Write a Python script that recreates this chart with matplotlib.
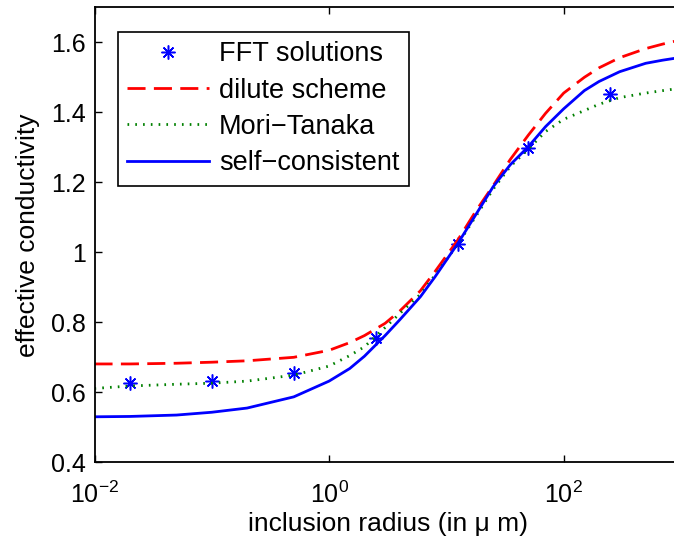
import matplotlib
matplotlib.use("Agg")
import matplotlib.pyplot as plt
from matplotlib.ticker import FixedLocator, FixedFormatter, NullLocator

plt.rcParams['font.family'] = ['Liberation Sans', 'DejaVu Sans']
plt.rcParams['mathtext.fontset'] = 'custom'
plt.rcParams['mathtext.rm'] = 'Liberation Sans'

# FFT reference solutions
x_fft = [0.02, 0.1, 0.5, 2.5, 12.5, 50, 250]
y_fft = [0.626, 0.632, 0.655, 0.754, 1.024, 1.299, 1.451]

# analytical schemes
x_model = [0.01, 0.02, 0.05, 0.1, 0.2, 0.5, 1, 1.5, 2, 3, 4, 6, 8, 12.5,
           18, 25, 35, 50, 70, 100, 150, 200, 300, 500, 700, 1000]
y_dilute = [0.681, 0.681, 0.683, 0.686, 0.690, 0.700, 0.720, 0.742, 0.762,
            0.797, 0.832, 0.890, 0.945, 1.035, 1.120, 1.190, 1.265, 1.335,
            1.397, 1.455, 1.500, 1.527, 1.556, 1.582, 1.595, 1.607]
y_mori = [0.611, 0.618, 0.623, 0.626, 0.632, 0.649, 0.675, 0.705, 0.730,
          0.785, 0.825, 0.880, 0.935, 1.023, 1.105, 1.180, 1.245, 1.295,
          1.345, 1.380, 1.405, 1.423, 1.442, 1.455, 1.462, 1.469]
y_self = [0.530, 0.531, 0.535, 0.543, 0.555, 0.587, 0.632, 0.668, 0.703,
          0.762, 0.807, 0.873, 0.930, 1.025, 1.110, 1.187, 1.250, 1.302,
          1.359, 1.410, 1.462, 1.488, 1.516, 1.540, 1.549, 1.557]

yticks = [0.4, 0.6, 0.8, 1.0, 1.2, 1.4, 1.6]
ytick_labels = ['0.4', '0.6', '0.8', '1', '1.2', '1.4', '1.6']
xticks = [1e-2, 1e0, 1e2]
xtick_labels = [r'$10^{-2}$', r'$10^{0}$', r'$10^{2}$']

fig = plt.figure(figsize=(6.74, 5.43), dpi=100)
ax = fig.add_axes([94.5/674, 1 - 462.3/543, (681 - 94.5)/674, 455/543])

ax.plot(x_fft, y_fft, linestyle='none', marker=(8, 2, 0), markersize=10,
        markeredgewidth=1.1, color='#0000ff', label='FFT solutions')
ax.plot(x_model, y_dilute, color='#ff0000', lw=2, dashes=(6.5, 3),
        label='dilute scheme')
ax.plot(x_model, y_mori, color='#008000', lw=2, dashes=(0.6, 2.2),
        dash_capstyle='butt', label='Mori\u2212Tanaka')
ax.plot(x_model, y_self, color='#0000ff', lw=2, label='self\u2212consistent')

ax.set_xscale('log')
ax.set_xlim(1e-2, 1e3)
ax.set_ylim(0.4, 1.7)
ax.xaxis.set_major_locator(FixedLocator(xticks))
ax.xaxis.set_major_formatter(FixedFormatter(xtick_labels))
ax.xaxis.set_minor_locator(NullLocator())
ax.yaxis.set_major_locator(FixedLocator(yticks))
ax.yaxis.set_major_formatter(FixedFormatter(ytick_labels))
ax.tick_params(direction='in', length=5, width=1, labelsize=18,
               top=True, right=True)
ax.tick_params(axis='y', pad=6)
ax.tick_params(axis='x', pad=14)
for s in ax.spines.values():
    s.set_linewidth(1.3)

ax.set_xlabel('inclusion radius (in \u03bc m)', fontsize=19, labelpad=3)
ax.set_ylabel('effective conductivity', fontsize=19, labelpad=8)

leg = ax.legend(loc='upper left', bbox_to_anchor=(0.04, 0.946), fontsize=19.5,
                frameon=True, fancybox=False, framealpha=1, edgecolor='black',
                handlelength=3.0, handletextpad=0.37, labelspacing=0.38,
                borderpad=0.35, borderaxespad=0)
leg.get_frame().set_linewidth(1.2)

fig.savefig('out.png', dpi=100)
